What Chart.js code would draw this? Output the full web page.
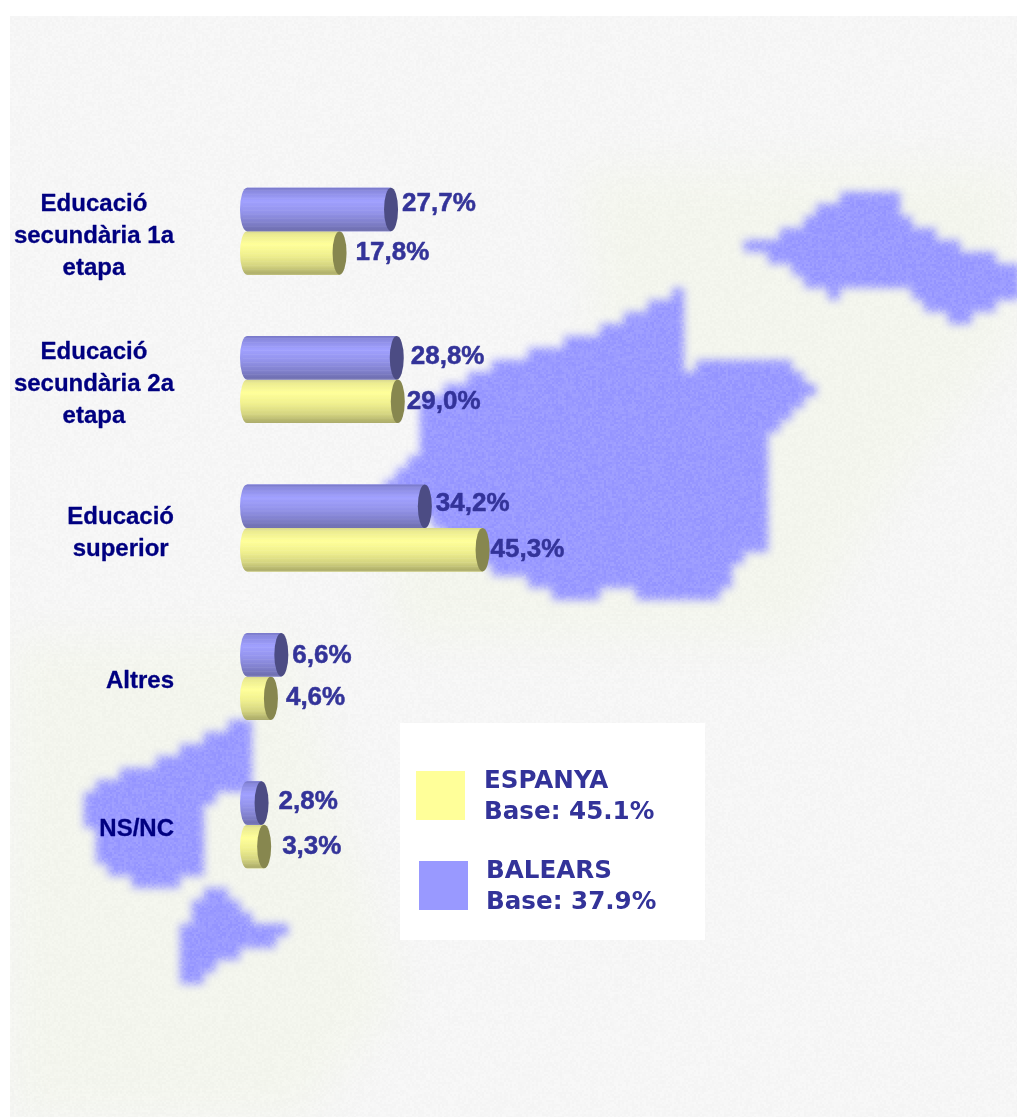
<!DOCTYPE html>
<html><head><meta charset="utf-8">
<style>html,body{margin:0;padding:0;background:#fff}canvas{display:block}</style>
<script src="https://cdn.jsdelivr.net/npm/chart.js@4"></script>
</head><body>
<canvas id="c" width="1017" height="1117"></canvas>
<script>
const categories = [["Educació","secundària 1a","etapa"],["Educació","secundària 2a","etapa"],["Educació","superior"],["Altres"],["NS/NC"]];
const balears = [27.7,28.8,34.2,6.6,2.8];
const espanya = [17.8,29.0,45.3,4.6,3.3];
const legendLines = {BALEARS:"Base: 37.9%", ESPANYA:"Base: 45.1%"};

// Decorative background only (the islands), not data
const islands = [
 [[684,288],[684,382],[712,358],[778,356],[814,392],[792,420],[768,442],[764,490],[772,540],[742,562],[720,597],[650,602],[620,585],[570,602],[535,585],[490,572],[440,530],[382,482],[415,452],[420,400],[480,372],[540,350],[600,330],[650,305]],
 [[742,245],[790,232],[815,210],[850,192],[897,192],[902,218],[950,240],[985,255],[1020,268],[1020,292],[958,325],[920,300],[880,282],[830,296],[790,270]],
 [[249,715],[249,792],[207,800],[207,870],[150,894],[100,862],[80,795],[130,770],[180,752]],
 [[217,884],[250,915],[302,938],[250,945],[190,984],[176,970],[190,900]]
];
const tints = [
 [[580,170],[1017,165],[1017,340],[900,480],[800,640],[400,640],[380,560],[600,330]],
 [[10,640],[290,640],[400,1000],[300,1117],[10,1117]]
];
const CELL = 12;

function paintBackdrop(ctx){
  ctx.fillStyle='#f6f6f6';
  ctx.fillRect(10,16,1007,1101);
  ctx.save();
  ctx.filter='blur(22px)';
  ctx.fillStyle='rgba(240,245,226,.4)';
  tints.forEach(p=>{ctx.beginPath();p.forEach((q,i)=>i?ctx.lineTo(q[0],q[1]):ctx.moveTo(q[0],q[1]));ctx.closePath();ctx.fill();});
  ctx.restore();
  const w=Math.ceil(1017/CELL),h=Math.ceil(1117/CELL);
  const low=document.createElement('canvas');low.width=w;low.height=h;
  const l=low.getContext('2d',{willReadFrequently:true});
  l.fillStyle='#000';
  islands.forEach(p=>{l.beginPath();p.forEach((q,i)=>i?l.lineTo(q[0]/CELL,q[1]/CELL):l.moveTo(q[0]/CELL,q[1]/CELL));l.closePath();l.fill();});
  const a=l.getImageData(0,0,w,h).data;
  ctx.save();
  ctx.filter='blur(4px)';
  ctx.fillStyle='#9a9aff';
  ctx.beginPath();
  for(let y=0;y<h;y++)for(let x=0;x<w;x++) if(a[(y*w+x)*4+3]>127) ctx.rect(x*CELL,y*CELL,CELL,CELL);
  ctx.fill();
  ctx.restore();
  ctx.clearRect(0,0,1017,16);
  ctx.clearRect(0,0,10,1117);
  const img=ctx.getImageData(0,0,1017,1117),d=img.data;
  for(let y=16;y<1117;y++)for(let x=10;x<1017;x++){
    const i=(y*1017+x)*4;
    const hash=((x>>1)*73856093^(y>>1)*19349663)>>>0;
    const n=(hash%5)-2;
    const blue=d[i+2]-d[i]>40;
    const k=blue?n*3:n*.8;
    d[i]+=k;d[i+1]+=k;d[i+2]+=blue?0:k;
  }
  ctx.putImageData(img,0,0);
}

const styles={
  0:{stops:[[0,'#7878c8'],[.08,'#8a8ae0'],[.3,'#a0a0ff'],[.55,'#9494ec'],[.8,'#8080cc'],[1,'#6c6cac']],cap:'#4c4c84'},
  1:{stops:[[0,'#d8d88c'],[.08,'#ecec90'],[.3,'#ffff99'],[.55,'#f0f08e'],[.8,'#d4d480'],[1,'#a8a866']],cap:'#87874f'}
};
const RX=7;
const labelNudge=[[[0,-6],[3,-1],[0,-2],[0,1],[6,-1]],[[5,0],[-2,0],[-3,0],[4,0],[7,0]]];

function boldText(ctx,t,x,y,w){ctx.lineWidth=w;ctx.strokeText(t,x,y);ctx.fillText(t,x,y);}

const cylinders={
  id:'cylinders',
  beforeDraw(chart){paintBackdrop(chart.ctx);},
  afterDatasetDraw(chart,args){
    const ctx=chart.ctx,st=styles[args.index];
    chart.getDatasetMeta(args.index).data.forEach(bar=>{
      const {x,y,base,height}=bar.getProps(['x','y','base','height'],true);
      const ry=height/2,top=y-ry;
      const g=ctx.createLinearGradient(0,top,0,top+height);
      st.stops.forEach(s=>g.addColorStop(s[0],s[1]));
      ctx.save();
      ctx.fillStyle=g;
      ctx.beginPath();
      ctx.moveTo(base,top);ctx.lineTo(x,top);
      ctx.lineTo(x,top+height);ctx.lineTo(base,top+height);
      ctx.ellipse(base,y,RX,ry,0,Math.PI/2,Math.PI*1.5);
      ctx.closePath();ctx.fill();
      ctx.strokeStyle='rgba(255,255,255,.07)';ctx.lineWidth=1;
      for(let b=top+2;b<top+height;b+=4){ctx.beginPath();ctx.moveTo(base-4,b+.5);ctx.lineTo(x,b+.5);ctx.stroke();}
      ctx.fillStyle=st.cap;
      ctx.beginPath();ctx.ellipse(x,y,RX,ry,0,0,Math.PI*2);ctx.fill();
      ctx.restore();
    });
  },
  afterDraw(chart){
    const ctx=chart.ctx,ys=chart.scales.y;
    ctx.save();
    ctx.textBaseline='middle';ctx.lineJoin='round';
    ctx.fillStyle='#000080';ctx.strokeStyle='#000080';ctx.font='bold 24px "Liberation Sans"';ctx.textAlign='center';
    categories.forEach((lines,i)=>{
      const mid=ys.getPixelForValue(i)+5;
      const w=Math.max(...lines.map(t=>ctx.measureText(t).width));
      const cx=174-w/2;
      lines.forEach((t,j)=>boldText(ctx,t,cx,mid+(j-(lines.length-1)/2)*31.8,.3));
    });
    ctx.fillStyle='#333399';ctx.strokeStyle='#333399';ctx.font='bold 26px "Liberation Sans"';ctx.textAlign='left';
    chart.data.datasets.forEach((ds,k)=>{
      chart.getDatasetMeta(k).data.forEach((bar,i)=>{
        const n=labelNudge[k][i];
        const t=ds.data[i].toFixed(1).replace('.',',')+'%';
        boldText(ctx,t,bar.x+RX+4+n[0],bar.y+n[1],.5);
      });
    });
    ctx.fillStyle='#ffffff';ctx.fillRect(400,723,305,217);
    ctx.font='bold 24.6px "DejaVu Sans"';
    const legend=[[416,771,484,782],[419,861,486,872]];
    [1,0].forEach((k,r)=>{
      const ds=chart.data.datasets[k],[sx,sy,tx,ty]=legend[r];
      ctx.fillStyle=ds.backgroundColor;ctx.fillRect(sx,sy,49,49);
      ctx.fillStyle='#333399';
      ctx.fillText(ds.label,tx,ty);
      ctx.fillText(legendLines[ds.label],tx,ty+31);
    });
    ctx.restore();
  }
};

new Chart(document.getElementById('c'),{
  type:'bar',
  data:{
    labels:categories,
    datasets:[
      {label:'BALEARS',data:balears,backgroundColor:'#9999FF',borderWidth:0,categoryPercentage:.586,barPercentage:1},
      {label:'ESPANYA',data:espanya,backgroundColor:'#FFFF99',borderWidth:0,categoryPercentage:.586,barPercentage:1}
    ]
  },
  options:{
    indexAxis:'y',
    responsive:false,
    animation:false,
    devicePixelRatio:1,
    layout:{padding:{left:247,right:250,top:157,bottom:218}},
    plugins:{legend:{display:false},tooltip:{enabled:false},title:{display:false}},
    scales:{
      x:{display:false,min:0,max:100,grid:{display:false}},
      y:{display:false,grid:{display:false}}
    }
  },
  plugins:[cylinders]
});
</script>
</body></html>
